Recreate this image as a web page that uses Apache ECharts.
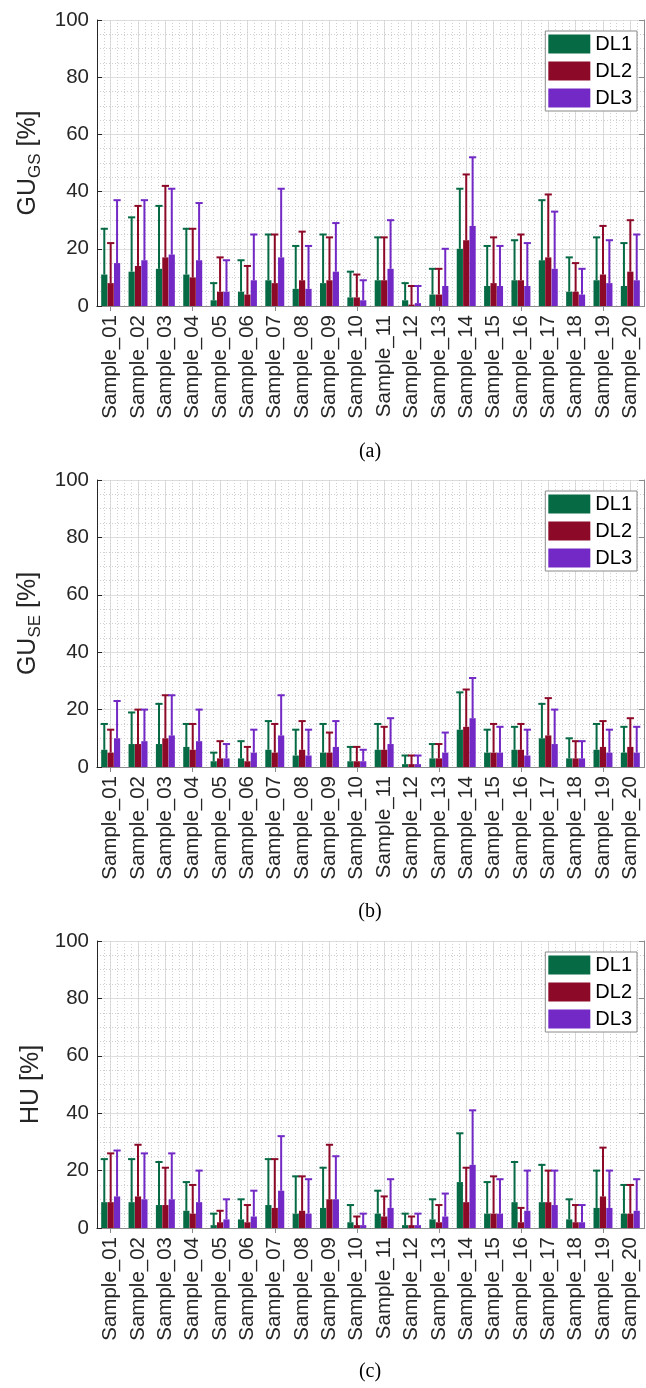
<!DOCTYPE html>
<html><head><meta charset="utf-8">
<script src="https://cdn.jsdelivr.net/npm/echarts@6/dist/echarts.min.js"></script>
<style>html,body{margin:0;padding:0;background:#fff}#c{width:646px;height:1388px}</style>
</head><body><div id="c"></div>
<script>
// ---------------- DATA ----------------
const categories = ['Sample_01','Sample_02','Sample_03','Sample_04','Sample_05','Sample_06','Sample_07','Sample_08','Sample_09','Sample_10',
  'Sample_11','Sample_12','Sample_13','Sample_14','Sample_15','Sample_16','Sample_17','Sample_18','Sample_19','Sample_20'];
const seriesNames = ['DL1','DL2','DL3'];
const yTicks = [0, 20, 40, 60, 80, 100];

// panel (a) GU_GS : bar value and top of error bar
const a_DL1    = [11,12,13,11,2,5,9,6,8,3, 9,2,4,20,7,9,16,5,9,7];
const a_DL1_up = [27,31,35,27,8,16,25,21,25,12, 24,8,13,41,21,23,37,17,24,22];
const a_DL2    = [8,14,17,10,5,4,8,9,9,3, 9,0.5,4,23,8,9,17,5,11,12];
const a_DL2_up = [22,35,42,27,17,14,25,26,24,11, 24,7,13,46,24,25,39,15,28,30];
const a_DL3    = [15,16,18,16,5,9,17,6,12,2, 13,1,7,28,7,7,13,4,8,9];
const a_DL3_up = [37,37,41,36,16,25,41,21,29,9, 30,7,20,52,21,22,33,13,23,25];

// panel (b) GU_SE
const b_DL1    = [6,8,8,7,2,3,6,4,5,2, 6,1,3,13,5,6,10,3,6,5];
const b_DL1_up = [15,19,22,15,5,9,16,13,15,7, 15,4,8,26,13,14,22,10,15,14];
const b_DL2    = [5,8,10,6,3,2,5,6,5,2, 6,1,3,14,5,6,11,3,7,7];
const b_DL2_up = [13,20,25,15,9,7,15,16,12,7, 14,4,8,27,15,15,24,9,16,17];
const b_DL3    = [10,9,11,9,3,5,11,4,7,2, 8,1,5,17,5,4,8,3,5,5];
const b_DL3_up = [23,20,25,20,8,13,25,13,16,6, 17,4,12,31,14,13,20,9,13,14];

// panel (c) HU
const c_DL1    = [9,9,8,6,1,3,8,5,7,2, 5,1,3,16,5,9,9,3,7,5];
const c_DL1_up = [24,24,23,16,5,10,24,18,21,8, 13,5,10,33,16,23,22,10,20,15];
const c_DL2    = [9,11,8,5,2,2,7,6,10,1, 4,1,2,9,5,2,9,2,11,5];
const c_DL2_up = [26,29,21,15,6,8,24,18,29,4, 11,4,8,21,18,7,20,8,28,15];
const c_DL3    = [11,10,10,9,3,4,13,5,10,1, 7,1,4,22,5,6,8,2,7,6];
const c_DL3_up = [27,26,26,20,10,13,32,17,25,5, 17,5,12,41,17,20,20,8,20,17];

const panelNames = ['{m|GU}{s|GS}{m| [%]}', '{m|GU}{s|SE}{m| [%]}', '{m|HU [%]}'];
const captions = ['(a)', '(b)', '(c)'];
// ---------------------------------------

const means = [[a_DL1,a_DL2,a_DL3],[b_DL1,b_DL2,b_DL3],[c_DL1,c_DL2,c_DL3]];
const ups = [[a_DL1_up,a_DL2_up,a_DL3_up],[b_DL1_up,b_DL2_up,b_DL3_up],[c_DL1_up,c_DL2_up,c_DL3_up]];

const colors = ['#066B45', '#8C0A28', '#7229C5'];
const layout = [{top:20, height:286, cap:452}, {top:480, height:287, cap:912}, {top:941, height:287, cap:1372}];
const FONT = '"Liberation Sans", Arial, Helvetica, sans-serif';
const AX = '#262626';
const BW = 6.2, GAP = 0.03;

const grid = [], xAxis = [], yAxis = [], series = [], legend = [], graphic = [];

layout.forEach((L, p) => {
  grid.push({left: 97, right: 2, top: L.top, height: L.height, containLabel: false});
  const xi = xAxis.length;
  xAxis.push({
    type: 'category', gridIndex: p, data: categories, position: 'bottom', boundaryGap: true,
    axisLine: {show: true, lineStyle: {color: AX, width: 1}},
    axisTick: {show: true, inside: true, alignWithLabel: true, length: 5, lineStyle: {color: AX}},
    axisLabel: {rotate: 90, fontSize: 20.5, color: AX, fontFamily: FONT, margin: 9, interval: 0},
    splitLine: {show: true, alignWithLabel: true, lineStyle: {color: '#dedede', width: 1}}
  });
  xAxis.push({
    type: 'category', gridIndex: p, data: categories, position: 'top', boundaryGap: true,
    axisLine: {show: true, lineStyle: {color: '#8a8a8a', width: 1}},
    axisTick: {show: true, inside: true, alignWithLabel: true, length: 5, lineStyle: {color: '#8a8a8a'}},
    axisLabel: {show: false}, splitLine: {show: false}
  });
  xAxis.push({
    type: 'value', gridIndex: p, min: 0, max: 20, interval: 1, position: 'bottom',
    axisLine: {show: false}, axisTick: {show: false}, axisLabel: {show: false},
    splitLine: {show: true, lineStyle: {color: '#cfcfcf', width: 1, type: [1, 2]}},
    minorTick: {show: false, splitNumber: 4},
    minorSplitLine: {show: true, lineStyle: {color: '#cfcfcf', width: 1, type: [1, 2]}}
  });
  const yi = yAxis.length;
  yAxis.push({
    type: 'value', gridIndex: p, min: yTicks[0], max: yTicks[yTicks.length - 1], interval: yTicks[1] - yTicks[0], position: 'left',
    name: panelNames[p], nameLocation: 'middle', nameRotate: 90, nameGap: 50,
    nameTextStyle: {
      color: AX, fontFamily: FONT,
      rich: {
        m: {fontSize: 25, color: AX, fontFamily: FONT, lineHeight: 32},
        s: {fontSize: 17, color: AX, fontFamily: FONT, lineHeight: 17, verticalAlign: 'bottom'}
      }
    },
    axisLine: {show: true, lineStyle: {color: AX, width: 1}},
    axisTick: {show: true, inside: true, length: 5, lineStyle: {color: AX}},
    axisLabel: {fontSize: 20.5, color: AX, fontFamily: FONT, margin: 8},
    splitLine: {show: true, lineStyle: {color: '#dedede', width: 1}},
    minorTick: {show: false, splitNumber: 4},
    minorSplitLine: {show: true, lineStyle: {color: '#cfcfcf', width: 1, type: [1, 2]}}
  });
  yAxis.push({
    type: 'value', gridIndex: p, min: yTicks[0], max: yTicks[yTicks.length - 1], interval: yTicks[1] - yTicks[0], position: 'right',
    axisLine: {show: true, lineStyle: {color: '#8a8a8a', width: 1}},
    axisTick: {show: true, inside: true, length: 5, lineStyle: {color: '#8a8a8a'}},
    axisLabel: {show: false}, splitLine: {show: false}
  });

  seriesNames.forEach((nm, k) => {
    series.push({
      type: 'bar', name: nm, xAxisIndex: xi, yAxisIndex: yi, data: means[p][k],
      barWidth: BW, barGap: (GAP * 100) + '%', itemStyle: {color: colors[k]}, animation: false
    });
  });
  seriesNames.forEach((nm, k) => {
    const off = (k - 1) * BW * (1 + GAP);
    const data = categories.map((c, i) => [i, ups[p][k][i], means[p][k][i]]);
    series.push({
      type: 'custom', name: nm + ' err', xAxisIndex: xi, yAxisIndex: yi, data: data,
      encode: {x: 0, y: [1, 2]}, z: 3, silent: true, animation: false,
      renderItem: function (params, api) {
        const i = api.value(0);
        const t = api.coord([i, api.value(1)]);
        const b = api.coord([i, api.value(2)]);
        const x = t[0] + off;
        return {type: 'group', children: [
          {type: 'line', shape: {x1: x, y1: b[1], x2: x, y2: t[1]}, style: {stroke: colors[k], lineWidth: 2}},
          {type: 'line', shape: {x1: x - 3.6, y1: t[1], x2: x + 3.6, y2: t[1]}, style: {stroke: colors[k], lineWidth: 2}}
        ]};
      }
    });
  });

  legend.push({
    data: seriesNames, orient: 'vertical', right: 9, top: L.top + 11, icon: 'rect',
    itemWidth: 42, itemHeight: 19, itemGap: 7, padding: [3, 5, 3, 3],
    borderColor: '#8a8a8a', borderWidth: 1, backgroundColor: '#fff',
    textStyle: {fontSize: 20, color: '#000', fontFamily: FONT}
  });

  graphic.push({
    type: 'text', x: 370, y: L.cap,
    style: {text: captions[p], font: '20px "Liberation Serif", "Times New Roman", serif', textAlign: 'center', textVerticalAlign: 'middle', fill: '#000'}
  });
});

const chart = echarts.init(document.getElementById('c'), null, {renderer: 'canvas'});
chart.setOption({
  backgroundColor: '#fff', animation: false,
  grid, xAxis, yAxis, series, legend, graphic
});
</script>
</body></html>
